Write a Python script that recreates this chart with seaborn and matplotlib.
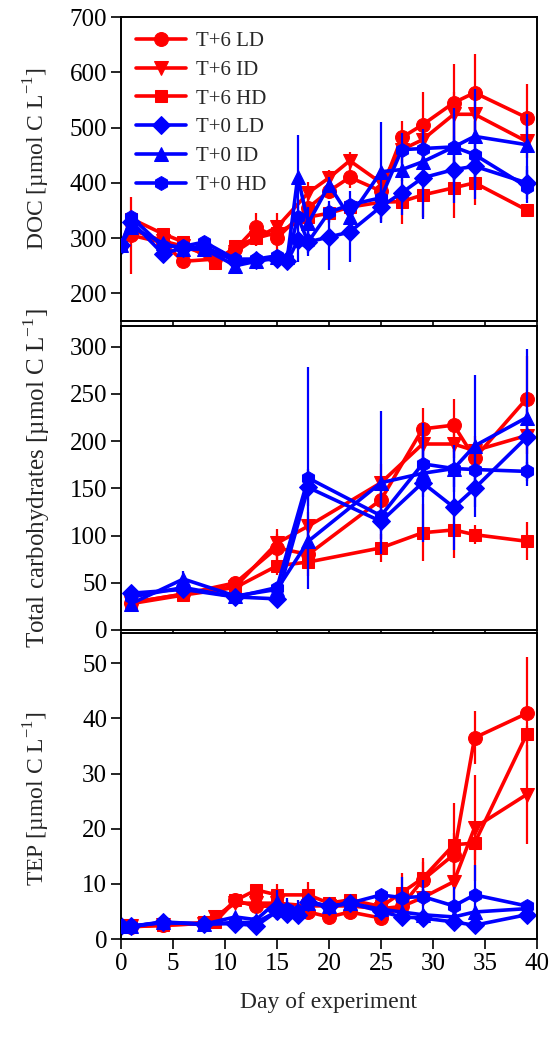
import numpy as np
import pandas as pd
import matplotlib
matplotlib.use("Agg")
import matplotlib.pyplot as plt
import seaborn as sns

# ---------------- data ----------------
labels = ["T+6 LD", "T+6 ID", "T+6 HD", "T+0 LD", "T+0 ID", "T+0 HD"]

# DOC
doc_days_t6 = [0, 1, 4, 6, 9, 11, 13, 15, 18, 20, 22, 25, 27, 29, 32, 34, 39]
doc_days_t0 = [0, 1, 4, 6, 8, 11, 13, 15, 16, 17, 18, 20, 22, 25, 27, 29, 32, 34, 39]
doc_t6_ld = [287, 305, 292, 258, 262, 280, 320, 300, 355, 385, 410, 385, 482, 505, 545, 563, 518]
doc_t6_ld_err = [5, 70, 10, 10, 10, 10, 25, 30, 20, 15, 20, 25, 30, 60, 70, 70, 60]
doc_t6_id = [287, 315, 295, 285, 265, 275, 300, 320, 382, 409, 440, 400, 460, 478, 524, 524, 475]
doc_t6_id_err = [5, 15, 10, 10, 10, 10, 15, 25, 20, 15, 15, 20, 25, 40, 40, 35, 30]
doc_t6_hd = [287, 335, 308, 293, 255, 285, 300, 310, 338, 345, 356, 365, 366, 378, 391, 400, 351]
doc_t6_hd_err = [5, 15, 10, 10, 12, 10, 10, 15, 15, 15, 15, 30, 40, 40, 55, 40, 10]
doc_t0_ld = [287, 330, 272, 282, 285, 258, 260, 262, 258, 296, 293, 302, 311, 357, 382, 409, 424, 430, 400]
doc_t0_ld_err = [5, 10, 10, 10, 10, 10, 10, 10, 10, 40, 20, 60, 55, 30, 40, 75, 60, 60, 30]
doc_t0_id = [287, 320, 291, 280, 280, 250, 258, 265, 265, 411, 327, 396, 338, 420, 424, 438, 465, 484, 469]
doc_t0_id_err = [5, 10, 10, 10, 10, 10, 10, 10, 10, 75, 30, 15, 20, 90, 20, 30, 70, 85, 55]
doc_t0_hd = [287, 338, 285, 285, 293, 262, 262, 268, 262, 338, 293, 347, 360, 373, 460, 462, 465, 451, 393]
doc_t0_hd_err = [5, 10, 10, 10, 10, 10, 10, 10, 10, 30, 25, 20, 25, 25, 30, 35, 60, 60, 30]

# Total carbohydrates
tch_days = [1, 6, 11, 15, 18, 25, 29, 32, 34, 39]
tch_t6_ld = [29, 38, 50, 87, 80, 138, 213, 217, 182, 245]
tch_t6_ld_err = [3, 4, 6, 15, 15, 20, 22, 28, 15, 45]
tch_t6_id = [29, 38, 46, 92, 110, 156, 197, 197, 190, 206]
tch_t6_id_err = [3, 4, 5, 15, 15, 20, 20, 15, 15, 20]
tch_t6_hd = [28, 37, 45, 68, 72, 87, 103, 106, 101, 94]
tch_t6_hd_err = [3, 4, 5, 10, 15, 15, 30, 30, 10, 20]
tch_t0_ld = [39, 43, 35, 33, 151, 115, 156, 130, 150, 204]
tch_t0_ld_err = [3, 5, 3, 3, 20, 10, 63, 45, 20, 30]
tch_t0_id = [28, 54, 36, 43, 94, 156, 166, 171, 195, 225]
tch_t0_id_err = [3, 8, 3, 5, 20, 76, 25, 25, 75, 73]
tch_t0_hd = [35, 45, 35, 45, 161, 121, 176, 171, 170, 168]
tch_t0_hd_err = [3, 5, 3, 4, 118, 25, 20, 20, 20, 10]

# TEP
tep_days_t6 = [0, 1, 4, 8, 9, 11, 13, 15, 18, 20, 22, 25, 27, 29, 32, 34, 39]
tep_days_t0 = [0, 1, 4, 8, 11, 13, 15, 16, 17, 18, 20, 22, 25, 27, 29, 32, 34, 39]
tep_t6_ld = [2.3, 2.2, 2.5, 2.8, 3.5, 7.0, 5.9, 6.0, 4.9, 4.0, 4.9, 3.8, 6.0, 10.7, 15.3, 36.5, 40.9]
tep_t6_ld_err = [0.3, 0.5, 0.3, 0.3, 0.5, 0.8, 0.8, 1, 0.8, 0.5, 0.8, 0.5, 1.5, 4, 4, 4.8, 10.3]
tep_t6_id = [2.3, 2.3, 2.5, 2.8, 4.0, 6.5, 6.5, 6.5, 6.0, 6.0, 6.0, 5.5, 5.9, 7.5, 10.4, 20.2, 26.2]
tep_t6_id_err = [0.3, 0.3, 0.3, 0.3, 0.5, 0.8, 0.8, 1, 1, 0.8, 0.8, 0.8, 1, 1.5, 4, 9.6, 9]
tep_t6_hd = [2.3, 2.3, 2.5, 3.0, 3.0, 7.0, 8.9, 8.0, 8.0, 6.5, 7.1, 5.9, 8.4, 11.0, 17.1, 17.4, 37.1]
tep_t6_hd_err = [0.3, 0.3, 0.3, 0.3, 0.5, 0.8, 1, 2, 2.4, 0.8, 0.8, 0.8, 3.5, 3, 7.6, 3, 1.5]
tep_t0_ld = [2.3, 2.3, 3.0, 2.7, 2.8, 2.4, 5.0, 4.5, 4.4, 6.8, 5.9, 6.5, 5.0, 4.0, 3.8, 3.1, 2.5, 4.4]
tep_t0_ld_err = [0.3, 0.3, 0.3, 0.3, 0.5, 0.5, 1.5, 1.5, 1.5, 1, 0.8, 0.8, 0.8, 0.8, 0.8, 0.5, 0.5, 0.8]
tep_t0_id = [2.3, 2.3, 3.0, 2.7, 4.0, 3.5, 6.8, 5.5, 5.0, 6.5, 5.9, 6.5, 5.4, 4.9, 4.4, 4.0, 4.9, 5.5]
tep_t0_id_err = [0.3, 0.3, 0.3, 0.3, 0.8, 0.8, 2, 2, 2, 1, 0.8, 0.8, 0.8, 1, 1, 1, 1, 0.8]
tep_t0_hd = [2.3, 2.3, 3.1, 2.7, 3.0, 3.0, 5.0, 5.5, 5.0, 6.8, 5.9, 6.5, 8.0, 7.5, 7.7, 6.0, 8.0, 6.0]
tep_t0_hd_err = [0.3, 0.3, 0.3, 0.3, 0.5, 0.5, 1.5, 1.5, 1.5, 1, 0.8, 1.5, 1, 3.8, 3, 3.5, 5.5, 0.8]

x_ticks = [0, 5, 10, 15, 20, 25, 30, 35, 40]

# ---------------- styling ----------------
sns.set_style("ticks")
plt.rcParams["font.family"] = ["Liberation Serif", "DejaVu Serif"]
plt.rcParams["mathtext.fontset"] = "custom"
plt.rcParams["mathtext.rm"] = "Liberation Serif"

colors = ["#ff0000", "#ff0000", "#ff0000", "#0000ff", "#0000ff", "#0000ff"]
markers = ["o", "v", "s", "D", "^", "h"]
msizes = [10, 10, 9, 9, 10, 10]

fig = plt.figure(figsize=(5.51, 10.41), dpi=100)
W = 416 / 551
L = 121 / 551
ax1 = fig.add_axes([L, 1 - 321 / 1041, W, 304 / 1041])
ax2 = fig.add_axes([L, 1 - 630 / 1041, W, 304 / 1041])
ax3 = fig.add_axes([L, 1 - 939 / 1041, W, 306 / 1041])

panels = [
    (ax1, [doc_days_t6] * 3 + [doc_days_t0] * 3,
     [doc_t6_ld, doc_t6_id, doc_t6_hd, doc_t0_ld, doc_t0_id, doc_t0_hd],
     [doc_t6_ld_err, doc_t6_id_err, doc_t6_hd_err, doc_t0_ld_err, doc_t0_id_err, doc_t0_hd_err],
     (150, 700), [200, 300, 400, 500, 600, 700],
     "DOC [\u00b5mol C L$^{-1}$]", 17, 0.535),
    (ax2, [tch_days] * 6,
     [tch_t6_ld, tch_t6_id, tch_t6_hd, tch_t0_ld, tch_t0_id, tch_t0_hd],
     [tch_t6_ld_err, tch_t6_id_err, tch_t6_hd_err, tch_t0_ld_err, tch_t0_id_err, tch_t0_hd_err],
     (0, 322), [0, 50, 100, 150, 200, 250, 300],
     "Total carbohydrates [\u00b5mol C L$^{-1}$]", 18, 0.5),
    (ax3, [tep_days_t6] * 3 + [tep_days_t0] * 3,
     [tep_t6_ld, tep_t6_id, tep_t6_hd, tep_t0_ld, tep_t0_id, tep_t0_hd],
     [tep_t6_ld_err, tep_t6_id_err, tep_t6_hd_err, tep_t0_ld_err, tep_t0_id_err, tep_t0_hd_err],
     (0, 55.5), [0, 10, 20, 30, 40, 50],
     "TEP [\u00b5mol C L$^{-1}$]", 17, 0.46),
]

for k, (ax, dlist, vlist, elist, ylim, yt, ylab, yfs, ypos) in enumerate(panels):
    for i in range(6):
        df = pd.DataFrame({"day": dlist[i], "val": vlist[i]})
        ax.errorbar(df["day"], df["val"], yerr=elist[i], fmt="none",
                    ecolor=colors[i], elinewidth=1.6, capsize=0, zorder=2 + i * 0.1)
        sns.lineplot(data=df, x="day", y="val", ax=ax, color=colors[i],
                     marker=markers[i], markersize=msizes[i],
                     markeredgecolor=colors[i], markerfacecolor=colors[i],
                     linewidth=2.6, label=labels[i], legend=False,
                     errorbar=None, sort=False, zorder=2 + i * 0.1 + 0.05)
    ax.set_xlim(0, 40)
    ax.set_ylim(*ylim)
    ax.set_yticks(yt)
    ax.set_xticks(x_ticks)
    ax.set_ylabel(ylab, fontsize=yfs)
    ax.yaxis.set_label_coords(-0.165, ypos)
    ax.set_xlabel("")
    for sp in ax.spines.values():
        sp.set_visible(True)
        sp.set_linewidth(1.4)
        sp.set_color("black")
    ax.tick_params(axis="both", direction="out", length=7, width=1.2, pad=3,
                   labelsize=18, colors="black", top=False, right=False)
    if k < 2:
        ax.tick_params(axis="x", labelbottom=False)

ax3.set_xlabel("Day of experiment", fontsize=17, labelpad=12)

handles, lbls = ax1.get_legend_handles_labels()
ax1.legend(handles, lbls, loc="upper left", frameon=False, fontsize=15,
           handlelength=2.4, labelspacing=0.44, borderaxespad=0.3,
           handletextpad=0.5, bbox_to_anchor=(0.0, 1.0))

fig.savefig("out.png", dpi=100)
